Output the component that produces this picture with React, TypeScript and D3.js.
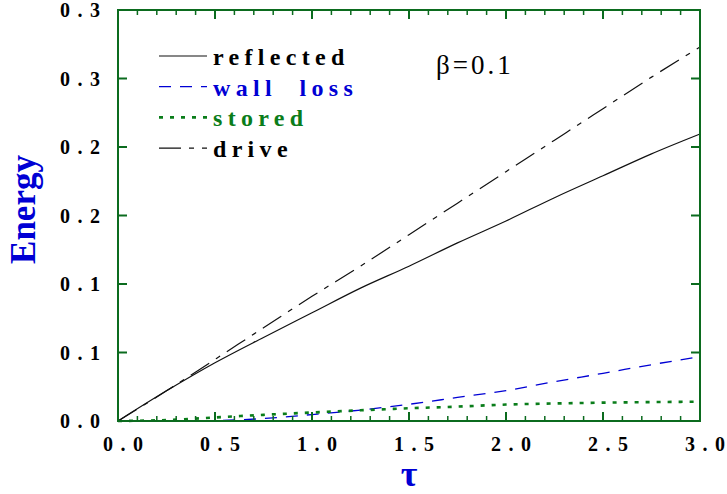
import React from 'react';
import * as d3 from 'd3';

// values
const tau = [0, 0.25, 0.5, 0.75, 1.0, 1.25, 1.5, 1.75, 2.0, 2.25, 2.5, 2.75, 3.0];
const reflected = [0, 0.022, 0.0425, 0.061, 0.079, 0.097, 0.113, 0.13, 0.146, 0.163, 0.179, 0.195, 0.2095];
const wallLoss = [0, 0, 0.0003, 0.0018, 0.0047, 0.008, 0.0122, 0.0172, 0.0222, 0.0287, 0.0348, 0.0411, 0.047];
const stored = [0, 0.0007, 0.0026, 0.0045, 0.0062, 0.0078, 0.0093, 0.0105, 0.012, 0.0128, 0.0134, 0.0138, 0.0141];
const drive = [0, 0.022, 0.045, 0.068, 0.091, 0.113, 0.136, 0.159, 0.182, 0.205, 0.228, 0.251, 0.273];

const xTicks = [0, 0.5, 1.0, 1.5, 2.0, 2.5, 3.0];
const xTickLabels = ['0.0', '0.5', '1.0', '1.5', '2.0', '2.5', '3.0'];
const yTicks = [0, 0.05, 0.1, 0.15, 0.2, 0.25, 0.3];
const yTickLabels = ['0.0', '0.1', '0.1', '0.2', '0.2', '0.3', '0.3'];

const seriesNames = ['reflected', 'wall\u00a0\u00a0loss', 'stored', 'drive'];
const seriesValues = [reflected, wallLoss, stored, drive];

const AXIS = '#0b6b1e';
const BLUE = '#0000d4';
const GREEN = '#0a7d1a';
const seriesStyle = [
  { stroke: '#111', dash: null, width: 1.2, text: '#000' },
  { stroke: BLUE, dash: '12,9', width: 1.3, text: BLUE },
  { stroke: GREEN, dash: '4,7', width: 2.6, text: GREEN },
  { stroke: '#111', dash: '22,8,5,8', width: 1.2, text: '#000' },
];

const W = 727;
const H = 494;
const margin = { top: 10, left: 118, right: 27, bottom: 73 };

// letter-spaced label without trailing space, so anchors stay honest
function Spaced({ text, gap, ...rest }: any) {
  return (
    <text {...rest}>
      {text.split('').map((c: string, j: number) => (
        <tspan key={j} dx={j ? gap : 0}>{c}</tspan>
      ))}
    </text>
  );
}

export default function App() {
  const x = d3.scaleLinear().domain([0, 3]).range([margin.left, W - margin.right]);
  const y = d3.scaleLinear().domain([0, 0.3]).range([H - margin.bottom, margin.top]);
  const x0 = x.range()[0], x1 = x.range()[1];
  const y0 = y.range()[0], y1 = y.range()[1];

  const minorX = d3.range(0, 31).map(i => i / 10).filter(v => Math.round(v * 10) % 5 !== 0);

  const line = (vals: number[]) =>
    d3.line<number>().x((_, i) => x(tau[i])).y(d => y(d)).curve(d3.curveMonotoneX)(vals) || '';

  const font = "'Liberation Serif', 'Times New Roman', serif";

  return (
    <svg width={W} height={H} style={{ position: 'absolute', left: 0, top: 0, background: '#fff' }}
      fontFamily={font}>
      {/* series */}
      {seriesValues.map((vals, i) => (
        <path key={i} d={line(vals)} fill="none" stroke={seriesStyle[i].stroke}
          strokeWidth={seriesStyle[i].width} strokeDasharray={seriesStyle[i].dash || undefined} />
      ))}

      {/* frame */}
      <rect x={x0} y={y1} width={x1 - x0} height={y0 - y1} fill="none" stroke={AXIS} strokeWidth={2} />

      {/* x ticks bottom and top */}
      {xTicks.map(t => (
        <g key={'xt' + t}>
          <line x1={x(t)} x2={x(t)} y1={y0} y2={y0 - 9} stroke={AXIS} strokeWidth={2} />
          <line x1={x(t)} x2={x(t)} y1={y1} y2={y1 + 9} stroke={AXIS} strokeWidth={2} />
        </g>
      ))}
      {minorX.map(t => (
        <g key={'xm' + t}>
          <line x1={x(t)} x2={x(t)} y1={y0} y2={y0 - 5} stroke={AXIS} strokeWidth={1.5} />
          <line x1={x(t)} x2={x(t)} y1={y1} y2={y1 + 5} stroke={AXIS} strokeWidth={1.5} />
        </g>
      ))}
      {/* y ticks left and right */}
      {yTicks.map(t => (
        <g key={'yt' + t}>
          <line x1={x0} x2={x0 + 9} y1={y(t)} y2={y(t)} stroke={AXIS} strokeWidth={2} />
          <line x1={x1} x2={x1 - 9} y1={y(t)} y2={y(t)} stroke={AXIS} strokeWidth={2} />
        </g>
      ))}

      {/* tick labels */}
      {xTicks.map((t, i) => (
        <Spaced key={'xl' + t} text={xTickLabels[i]} gap={7.5} x={x(t) + 5} y={451}
          textAnchor="middle" fontSize={20} fontWeight="bold" />
      ))}
      {yTicks.map((t, i) => (
        <Spaced key={'yl' + t} text={yTickLabels[i]} gap={7.5} x={100} y={y(t) + 7}
          textAnchor="end" fontSize={20} fontWeight="bold" />
      ))}

      {/* axis titles */}
      <text transform={`translate(35, ${(y0 + y1) / 2 - 6}) rotate(-90)`} textAnchor="middle"
        fontSize={35} fontWeight="bold" fill={BLUE}>Energy</text>
      <text x={(x0 + x1) / 2} y={486} textAnchor="middle" fontSize={36} fontWeight="bold" fill={BLUE}>τ</text>

      {/* legend */}
      {seriesNames.map((name, i) => {
        const ly = 56 + i * 30.7;
        return (
          <g key={name}>
            <line x1={159} x2={207} y1={ly} y2={ly} stroke={seriesStyle[i].stroke}
              strokeWidth={seriesStyle[i].width} strokeDasharray={seriesStyle[i].dash || undefined} />
            <Spaced text={name} gap={5.3} x={213} y={ly + 9} fontSize={24} fontWeight="bold"
              fill={seriesStyle[i].text} />
          </g>
        );
      })}

      <Spaced text="β=0.1" gap={3} x={436} y={74} fontSize={27} />
    </svg>
  );
}
